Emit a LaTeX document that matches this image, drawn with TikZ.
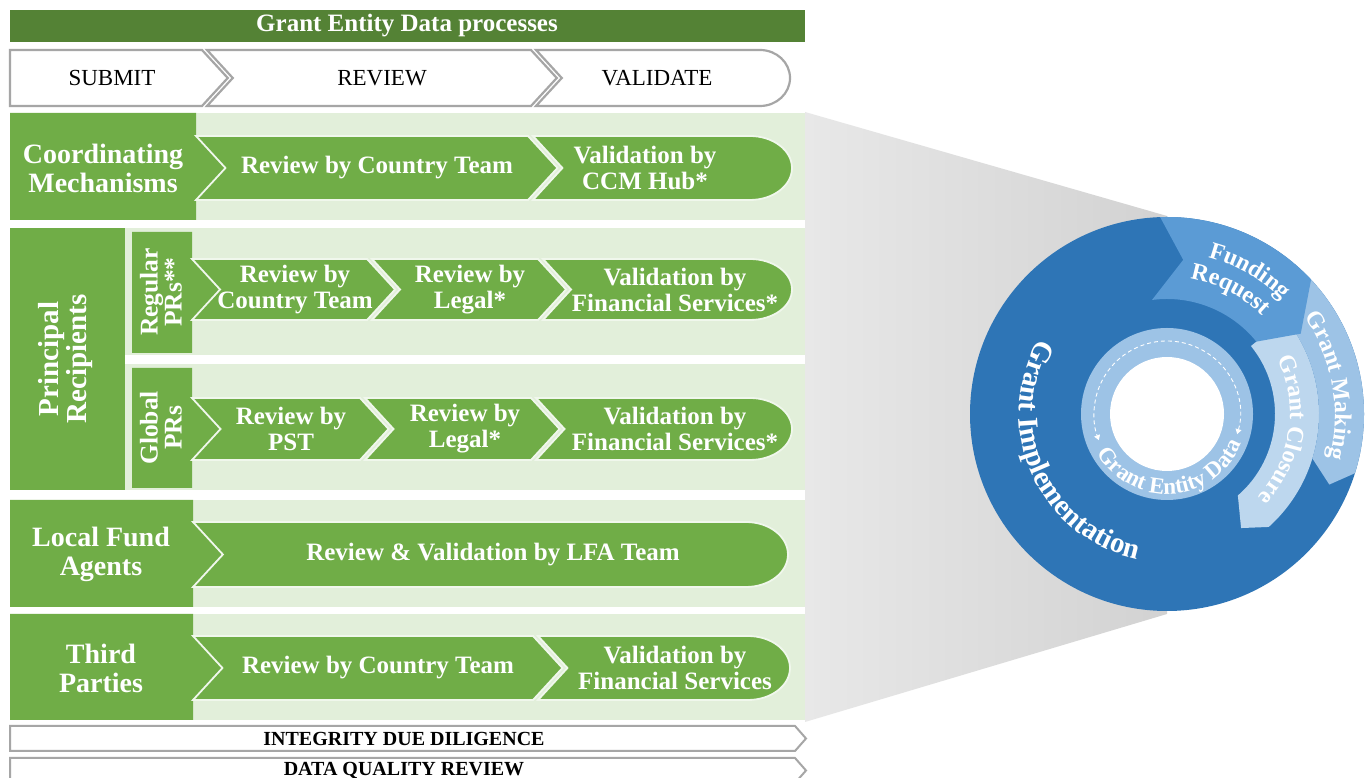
\documentclass[tikz,border=0pt]{standalone}
\usepackage{fontspec}
\setmainfont{Liberation Serif}
\usetikzlibrary{decorations.text,arrows.meta}
\definecolor{hdrgreen}{HTML}{548235}
\definecolor{boxgreen}{HTML}{70AD47}
\definecolor{pnlgreen}{HTML}{E2EFDA}
\definecolor{blueD}{HTML}{2E75B6}
\definecolor{blueM}{HTML}{5B9BD5}
\definecolor{blueL}{HTML}{9DC3E6}
\definecolor{blueXL}{HTML}{BDD7EE}
\definecolor{edgegray}{HTML}{A6A6A6}
\definecolor{funL}{HTML}{E8E8E8}
\definecolor{funR}{HTML}{D2D2D2}
% flat left, pointed right: style, x left, x base, py top, py bottom
\newcommand{\chevA}[5]{\filldraw[#1] (#2,{778-#4}) -- (#3,{778-#4}) -- ({#3+0.46*(#5-#4)},{778-(#4+#5)/2}) -- (#3,{778-#5}) -- (#2,{778-#5}) -- cycle;}
% notched left, pointed right
\newcommand{\chevB}[5]{\filldraw[#1] (#2,{778-#4}) -- (#3,{778-#4}) -- ({#3+0.46*(#5-#4)},{778-(#4+#5)/2}) -- (#3,{778-#5}) -- (#2,{778-#5}) -- ({#2+0.46*(#5-#4)},{778-(#4+#5)/2}) -- cycle;}
% notched left, rounded right ending at #3 (radius #6)
\newcommand{\chevC}[6]{\filldraw[#1] (#2,{778-#4}) -- ({#3-#6},{778-#4}) .. controls ({#3-#6+0.5523*#6},{778-#4}) and (#3,{778-(#4+#5)/2+0.5523*(#5-#4)/2}) .. (#3,{778-(#4+#5)/2}) .. controls (#3,{778-(#4+#5)/2-0.5523*(#5-#4)/2}) and ({#3-#6+0.5523*#6},{778-#5}) .. ({#3-#6},{778-#5}) -- (#2,{778-#5}) -- ({#2+0.46*(#5-#4)},{778-(#4+#5)/2}) -- cycle;}
% label box with notch fill: x1, x2, py top, py bottom, chevron py top, chevron py bottom
\newcommand{\lbox}[6]{\fill[boxgreen] (#1,{778-#3}) -- (#2,{778-#3}) -- (#2,{778-#5}) -- ({#2+0.46*(#6-#5)},{778-(#5+#6)/2}) -- (#2,{778-#6}) -- (#2,{778-#4}) -- (#1,{778-#4}) -- cycle;}
\begin{document}
\begin{tikzpicture}[x=1pt,y=1pt,
  chev/.style={fill=boxgreen, draw=pnlgreen!50!white, line width=1.8pt},
  wchev/.style={fill=white, draw=edgegray, line width=2.2pt},
  barshape/.style={fill=white, draw=edgegray, line width=2pt},
  ctext/.style={text=white, font=\bfseries\fontsize{25}{26}\selectfont, align=center, inner sep=0pt},
  ltext/.style={text=white, font=\bfseries\fontsize{28}{29}\selectfont, align=center, inner sep=0pt},
  ptext/.style={text=white, font=\bfseries\fontsize{29}{28}\selectfont, align=center, inner sep=0pt},
  stext/.style={text=white, font=\bfseries\fontsize{25.5}{24}\selectfont, align=center, inner sep=0pt},
  htext/.style={text=black, font=\fontsize{23}{24}\selectfont, inner sep=0pt},
  btext/.style={text=black, font=\bfseries\fontsize{20}{20}\selectfont, inner sep=0pt},
  ttext/.style={text=white, font=\bfseries\fontsize{25}{26}\selectfont, inner sep=0pt},
]
\clip (0,0) rectangle (1368,778);
\fill[white] (0,0) rectangle (1368,778);

% funnel
\shade[left color=funL, right color=funR] (805,666) -- (1167,562) -- (1167,164) -- (805,56) -- cycle;

% header
\fill[hdrgreen] (10,736) rectangle (805,768);
\node[ttext] (hdr) at (407,752) {Grant Entity Data processes};

% phase chevrons
\chevA{wchev}{10}{202}{50}{106}
\chevB{wchev}{207}{531}{50}{106}
\chevC{wchev}{536}{790}{50}{106}{30}
\node[htext] (submit) at (112,700) {SUBMIT};
\node[htext] (review) at (382,700) {REVIEW};
\node[htext] (validate) at (657,700) {VALIDATE};

% panels
\fill[pnlgreen] (10,{778-113}) rectangle (805,{778-220});
\fill[pnlgreen] (10,{778-228}) rectangle (805,{778-355});
\fill[pnlgreen] (10,{778-364}) rectangle (805,{778-490});
\fill[pnlgreen] (10,{778-500}) rectangle (805,{778-607});
\fill[pnlgreen] (10,{778-614}) rectangle (805,{778-720});

% Coordinating Mechanisms
\lbox{10}{196}{113}{220}{136}{200}
\chevB{chev}{196}{528}{136}{200}
\chevC{chev}{533}{792}{136}{200}{42}
\node[ltext] (cm) at (103,{778-168}) {Coordinating\\Mechanisms};
\node[ctext] (cm1) at (377,{778-168}) {Review by Country Team};
\node[ctext] (cm2) at (645,{778-168}) {Validation by\\CCM Hub*};

% Principal Recipients
\fill[boxgreen] (10,{778-228}) rectangle (125,{778-490});
\lbox{132}{192}{232}{353}{259}{320}
\lbox{132}{192}{368}{488}{398}{460}
\node[ptext, rotate=90] (pr) at (66,{778-359}) {Principal\\Recipients};
\node[stext, rotate=90] (rpr) at (161,{778-292}) {Regular\\PRs**};
\node[stext, rotate=90] (gpr) at (161,{778-428}) {Global\\PRs};
\chevB{chev}{192}{367}{259}{320}
\chevB{chev}{372}{538}{259}{320}
\chevC{chev}{543}{792}{259}{320}{42}
\node[ctext] (r1) at (295,{778-290}) {Review by\\Country Team};
\node[ctext] (r2) at (470,{778-290}) {Review by\\Legal*};
\node[ctext] (r3) at (675,{778-290}) {Validation by\\Financial Services*};
\chevB{chev}{192}{360}{398}{460}
\chevB{chev}{365}{531}{398}{460}
\chevC{chev}{536}{792}{398}{460}{42}
\node[ctext] (g1) at (291,{778-429}) {Review by\\PST};
\node[ctext] (g2) at (465,{778-429}) {Review by\\Legal*};
\node[ctext] (g3) at (675,{778-429}) {Validation by\\Financial Services*};

% Local Fund Agents
\lbox{10}{193}{500}{607}{522}{587}
\chevC{chev}{193}{788}{522}{587}{42}
\node[ltext] (lfa) at (101,{778-554}) {Local Fund\\Agents};
\node[ctext] (lfa1) at (493,{778-555}) {Review \& Validation by LFA Team};

% Third Parties
\lbox{10}{193}{614}{720}{636}{700}
\chevB{chev}{193}{533}{636}{700}
\chevC{chev}{538}{790}{636}{700}{42}
\node[ltext] (tp) at (101,{778-668}) {Third\\Parties};
\node[ctext] (tp1) at (378,{778-668}) {Review by Country Team};
\node[ctext] (tp2) at (675,{778-668}) {Validation by\\Financial Services};

% bottom bars
\filldraw[barshape] (10,{778-726}) -- (795,{778-726}) -- (806,{778-738.5}) -- (795,{778-751}) -- (10,{778-751}) -- cycle;
\filldraw[barshape] (10,{778-758}) -- (795,{778-758}) -- (806,{778-770.5}) -- (795,{778-783}) -- (10,{778-783}) -- cycle;
\node[btext] (idd) at (404,{778-738.5}) {INTEGRITY DUE DILIGENCE};
\node[btext] (dqr) at (404,{778-770.5}) {DATA QUALITY REVIEW};

% grant cycle
\begin{scope}[shift={(1167,364)}]
\fill[blueD] (0,0) circle[radius=197pt];
% Grant Closure
\fill[blueXL] (39:152pt) arc[start angle=39,end angle=-48,radius=152pt] -- (-57:136pt) -- (-49:108pt) arc[start angle=-49,end angle=39,radius=108pt] -- cycle;
% Grant Making
\fill[blueL] (45:197pt) arc[start angle=45,end angle=-17.5,radius=197pt] -- (-23.5:177pt) -- (-17:152pt) arc[start angle=-17,end angle=45,radius=152pt] -- cycle;
% Funding Request
\fill[blueM] (92:197pt) arc[start angle=92,end angle=43,radius=197pt] -- (31:156pt) -- (39:115pt) arc[start angle=39,end angle=97.5,radius=115pt] -- (84:155pt) -- cycle;
% inner ring
\fill[blueL] (0,0) circle[radius=86pt];
\fill[white] (0,0) circle[radius=57pt];
\draw[white, line width=0.9pt, dash pattern=on 4pt off 3pt, {Triangle[width=6pt,length=5pt]}-{Triangle[width=6pt,length=5pt]}] (-16:73pt) arc[start angle=-16,end angle=201,radius=73pt];
% curved texts
\path[decorate, decoration={text along path, text={|\bfseries\fontsize{29}{29}\selectfont|Grant Implementation}, text align=center, text color=white}] (146:148pt) arc[start angle=146,end angle=262,radius=148pt];
\path[decorate, decoration={text along path, text={|\bfseries\fontsize{24}{24}\selectfont|Funding}, text align=center, text color=white}] (85:162pt) arc[start angle=85,end angle=35,radius=162pt];
\path[decorate, decoration={text along path, text={|\bfseries\fontsize{24}{24}\selectfont|Request}, text align=center, text color=white}] (88:137pt) arc[start angle=88,end angle=38,radius=137pt];
\path[decorate, decoration={text along path, text={|\bfseries\fontsize{24}{24}\selectfont|Grant Making}, text align=center, text color=white}] (45:168pt) arc[start angle=45,end angle=-25,radius=168pt];
\path[decorate, decoration={text along path, text={|\bfseries\fontsize{24}{24}\selectfont|Grant Closure}, text align=center, text color=white}] (30:123pt) arc[start angle=30,end angle=-46,radius=123pt];
\path[decorate, decoration={text along path, text={|\bfseries\fontsize{23}{23}\selectfont|Grant Entity Data}, text align=center, text color=white}] (-166:80pt) arc[start angle=-166,end angle=-6,radius=80pt];
\end{scope}
\end{tikzpicture}
\end{document}
